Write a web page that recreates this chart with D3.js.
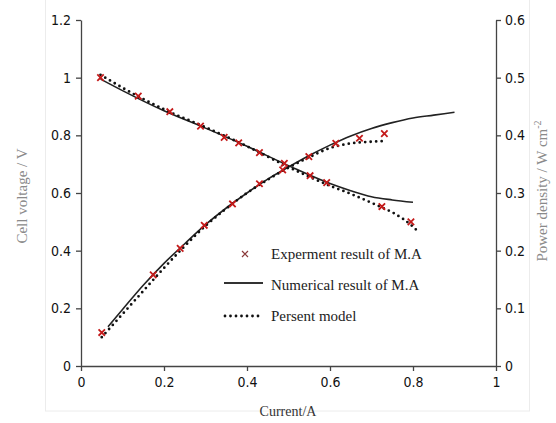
<!DOCTYPE html>
<html><head><meta charset="utf-8">
<script src="https://cdn.jsdelivr.net/npm/d3@7"></script>
<style>
body{margin:0;background:#fff;}
svg{display:block;}
.tick text{font-family:"Liberation Sans Narrow","DejaVu Sans Condensed",Arial,sans-serif;font-size:14px;fill:#111;}
</style></head>
<body><svg id="c" width="556" height="423"></svg>
<script>
// Experimental data (M.A)
const expVI = [0.047, 0.138, 0.214, 0.288, 0.345, 0.38, 0.43, 0.49, 0.552, 0.592, 0.725, 0.795];
const expV  = [1.00, 0.936, 0.882, 0.832, 0.793, 0.774, 0.740, 0.703, 0.660, 0.636, 0.553, 0.500];
const expPI = [0.05, 0.174, 0.239, 0.297, 0.365, 0.43, 0.486, 0.549, 0.614, 0.671, 0.731];
const expP  = [0.058, 0.158, 0.204, 0.244, 0.281, 0.316, 0.340, 0.363, 0.386, 0.395, 0.403];
// Numerical result of M.A
const numVI = [0.047, 0.1, 0.2, 0.3, 0.4, 0.5, 0.6, 0.65, 0.7, 0.75, 0.8];
const numV  = [0.995, 0.955, 0.885, 0.825, 0.762, 0.695, 0.633, 0.608, 0.587, 0.576, 0.568];
const numPI = [0.065, 0.1, 0.15, 0.2, 0.25, 0.3, 0.35, 0.4, 0.45, 0.5, 0.55, 0.6, 0.65, 0.7, 0.75, 0.8, 0.85, 0.9];
const numP  = [0.068, 0.098, 0.140, 0.178, 0.212, 0.245, 0.274, 0.300, 0.324, 0.345, 0.365, 0.383, 0.399, 0.412, 0.422, 0.430, 0.435, 0.440];
// Present model
const modVI = [0.047, 0.1, 0.2, 0.3, 0.4, 0.5, 0.6, 0.65, 0.7, 0.72, 0.75, 0.8, 0.815];
const modV  = [1.01, 0.965, 0.89, 0.828, 0.762, 0.69, 0.625, 0.597, 0.566, 0.553, 0.533, 0.483, 0.462];
const modPI = [0.05, 0.075, 0.1, 0.15, 0.2, 0.25, 0.3, 0.35, 0.4, 0.45, 0.5, 0.55, 0.6, 0.65, 0.7, 0.73];
const modP  = [0.05, 0.07, 0.09, 0.13, 0.17, 0.208, 0.243, 0.273, 0.3, 0.323, 0.344, 0.362, 0.378, 0.386, 0.389, 0.390];
// Axis ticks
const xTicks = [0, 0.2, 0.4, 0.6, 0.8, 1];
const yTicks = [0, 0.2, 0.4, 0.6, 0.8, 1, 1.2];
const y2Ticks = [0, 0.1, 0.2, 0.3, 0.4, 0.5, 0.6];
const legendLabels = ["Experment result of M.A", "Numerical result of M.A", "Persent model"];

const L = 81, R = 496, T = 20, B = 366;
const svg = d3.select("#c");
const x = d3.scaleLinear().domain([0, 1]).range([L, R]);
const y = d3.scaleLinear().domain([0, 1.2]).range([B, T]);
const y2 = d3.scaleLinear().domain([0, 0.6]).range([B, T]);

// faint frame
svg.append("rect").attr("x", 45.5).attr("y", -1).attr("width", 484).attr("height", 412)
  .attr("fill", "none").attr("stroke", "#ececec");

const fmt = d => String(+d.toFixed(1));
const gx = svg.append("g").attr("transform", `translate(0,${B})`)
  .call(d3.axisBottom(x).tickValues(xTicks).tickFormat(fmt).tickSize(5).tickSizeOuter(0).tickPadding(6));
const gy = svg.append("g").attr("transform", `translate(${L},0)`)
  .call(d3.axisLeft(y).tickValues(yTicks).tickFormat(fmt).tickSize(5).tickSizeOuter(0).tickPadding(5));
const gy2 = svg.append("g").attr("transform", `translate(${R},0)`)
  .call(d3.axisRight(y2).tickValues(y2Ticks).tickFormat(fmt).tickSize(5).tickSizeOuter(0).tickPadding(4));
[gx, gy, gy2].forEach(g => { g.selectAll("path,line").attr("stroke", "#444").attr("stroke-width", 1.3); });

// axis titles
svg.append("text").attr("x", 288).attr("y", 416).attr("text-anchor", "middle")
  .attr("font-family", "'Liberation Serif','Times New Roman',serif").attr("font-size", 14).attr("fill", "#333")
  .text("Current/A");
svg.append("text").attr("transform", "translate(27,196) rotate(-90)").attr("text-anchor", "middle")
  .attr("font-family", "'Liberation Serif','Times New Roman',serif").attr("font-size", 15).attr("fill", "#8a8a8a")
  .text("Cell voltage / V");
const t2 = svg.append("text").attr("transform", "translate(547,191) rotate(-90)").attr("text-anchor", "middle")
  .attr("font-family", "'Liberation Serif','Times New Roman',serif").attr("font-size", 15).attr("fill", "#8a8a8a");
t2.append("tspan").text("Power density / W cm");
t2.append("tspan").attr("dy", -6).attr("font-size", 10).text("-2");

const zip = (a, b) => a.map((v, i) => [v, b[i]]);
const lineV = d3.line().x(d => x(d[0])).y(d => y(d[1])).curve(d3.curveMonotoneX);
const lineP = d3.line().x(d => x(d[0])).y(d => y2(d[1])).curve(d3.curveMonotoneX);

// numerical solid lines
svg.append("path").attr("d", lineV(zip(numVI, numV))).attr("fill", "none").attr("stroke", "#222").attr("stroke-width", 1.6);
svg.append("path").attr("d", lineP(zip(numPI, numP))).attr("fill", "none").attr("stroke", "#222").attr("stroke-width", 1.6);
// present model dotted
const dotStyle = p => p.attr("fill", "none").attr("stroke", "#111").attr("stroke-width", 2.8)
  .attr("stroke-linecap", "round").attr("stroke-dasharray", "0 5.5");
svg.append("path").attr("d", lineV(zip(modVI, modV))).call(dotStyle);
svg.append("path").attr("d", lineP(zip(modPI, modP))).call(dotStyle);

// experiment markers
function cross(g, cx, cy, s, col, w) {
  g.append("path").attr("d", `M${cx - s},${cy - s}L${cx + s},${cy + s}M${cx - s},${cy + s}L${cx + s},${cy - s}`)
    .attr("stroke", col).attr("stroke-width", w).attr("fill", "none");
}
const mg = svg.append("g");
zip(expVI, expV).forEach(d => cross(mg, x(d[0]), y(d[1]), 3.2, "#c41a1a", 1.8));
zip(expPI, expP).forEach(d => cross(mg, x(d[0]), y2(d[1]), 3.2, "#c41a1a", 1.8));

// legend
const lg = svg.append("g");
const lx = 224, lx2 = 263, tx = 271;
const rows = [255, 286, 317];
cross(lg, 245, rows[0] - 1, 3, "#8b3a3a", 1.2);
lg.append("line").attr("x1", lx).attr("x2", lx2).attr("y1", rows[1] - 3).attr("y2", rows[1] - 3).attr("stroke", "#333").attr("stroke-width", 2);
lg.append("line").attr("x1", lx + 1).attr("x2", lx2).attr("y1", rows[2] - 1).attr("y2", rows[2] - 1).call(dotStyle);
legendLabels.forEach((t, i) => {
  lg.append("text").attr("x", tx).attr("y", rows[i] + 4)
    .attr("font-family", "'Liberation Serif','Times New Roman',serif").attr("font-size", 15).attr("fill", "#222").text(t);
});
</script></body></html>
